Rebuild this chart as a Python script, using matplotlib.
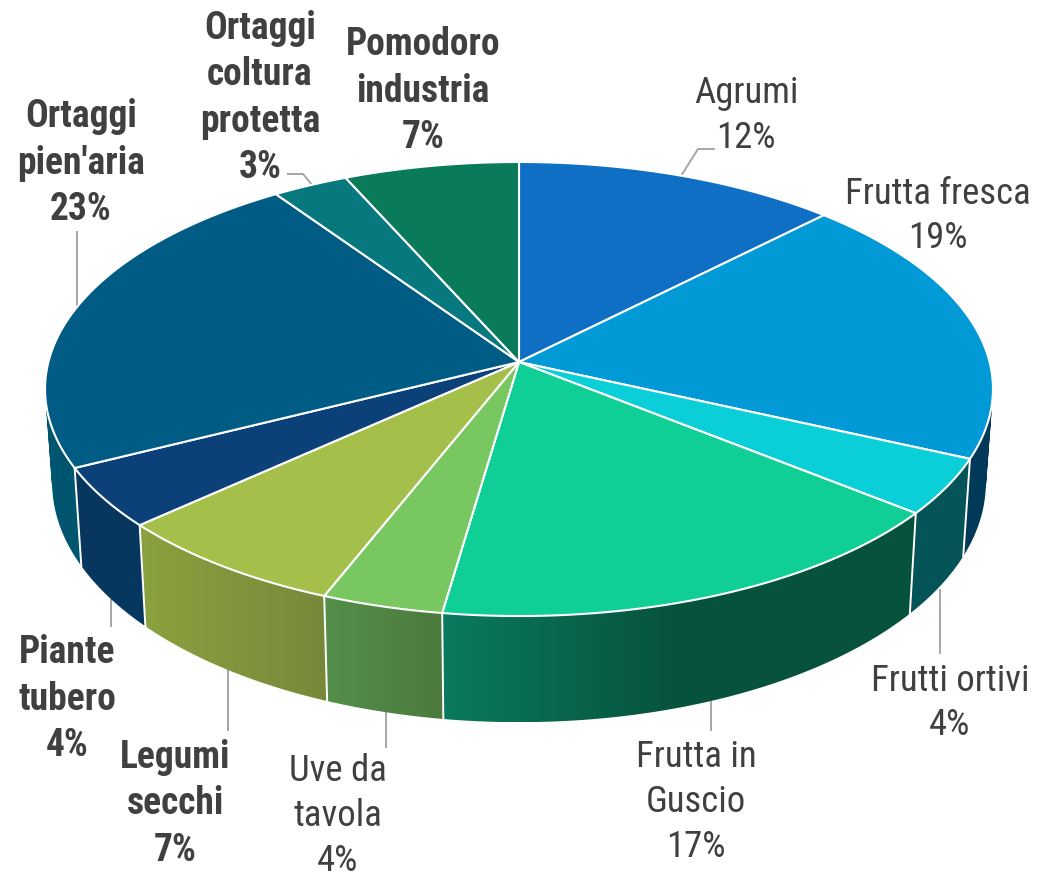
import numpy as np
import matplotlib
matplotlib.use("Agg")
import matplotlib.pyplot as plt
from matplotlib.colors import LinearSegmentedColormap
from matplotlib.patches import Polygon
from matplotlib.path import Path

# quote in percent, clockwise from the top
labels = ["Agrumi", "Frutta fresca", "Frutti ortivi", "Frutta in\nGuscio", "Uve da\ntavola",
          "Legumi\nsecchi", "Piante\ntubero", "Ortaggi\npien'aria", "Ortaggi\ncoltura\nprotetta",
          "Pomodoro\nindustria"]
shares = [12.4, 19.35, 4.0, 16.55, 3.7, 7.3, 4.3, 22.8, 2.9, 6.7]
bold = [False, False, False, False, False, True, True, True, True, True]

top_colors = ["#0e6fc4", "#0299d7", "#0acfd9", "#0fcf97", "#78c761",
              "#a4bf4a", "#0b4078", "#005c84", "#08787f", "#097a5a"]
side_colors = [["#0a5c9c", "#0a5c9c"], ["#003a58", "#003a58"], ["#055458", "#055458"],
               ["#0a7a5e", "#07523c", "#07523c"], ["#548f4b", "#4c7a3c"],
               ["#8aa23f", "#78883a"], ["#07375f", "#07375f"], ["#00556f", "#00556f"],
               ["#065a60", "#065a60"], ["#065a44", "#065a44"]]

label_pos = [(746, 115.5), (938, 216), (950, 703), (696, 802), (338, 816),
             (175, 804), (67, 699), (81, 163), (260, 98), (423, 91)]
leaders = [[(681, 176), (698, 149), (714, 149)], [], [(940, 590), (940, 653)], [(711, 702), (711, 730)],
           [(386, 713), (386, 747)], [(228, 670), (228, 730)], [(111, 600), (111, 626)],
           [(77, 232), (77, 308)], [(288, 174), (303, 174), (313, 186)], []]

# geometry of the pie on screen, in pixels
cx, cy = 519, 362
a, b, k = 470.6, 223.8, 0.119


def project(theta):
    # perspective view of the unit circle, theta clockwise from the back
    X, Y = np.sin(theta), np.cos(theta)
    w = 1 + k * Y
    return cx + a * X / w, cy - b * Y / w


def lower(x, y):
    # same point at the base of the cylinder
    return cx + 0.985 * (x - cx), y + 98 + 0.055 * (y - 468)


def quad_path(p):
    # all quads wound the same way, otherwise overlaps cancel out in the clip
    p = np.array(p)
    area = np.sum(p[:, 0] * np.roll(p[:, 1], -1) - np.roll(p[:, 0], -1) * p[:, 1])
    if area < 0:
        p = p[::-1]
    return Path(np.vstack([p, p[0]]), closed=True)


fig = plt.figure(figsize=(10.38, 8.76), dpi=100)
ax = fig.add_axes([0, 0, 1, 1])

edges = np.cumsum([0] + shares) / 100 * 2 * np.pi

for i in range(len(shares)):
    th = np.linspace(edges[i], edges[i + 1], 90)
    x, y = project(th)
    xb, yb = lower(x, y)
    # the side panel is a gradient image clipped to small quads, so the silhouette stays filled
    quads = [quad_path([(x[j], y[j]), (x[j + 1], y[j + 1]), (xb[j + 1], yb[j + 1]), (xb[j], yb[j])])
             for j in range(len(th) - 1)]
    cmap = LinearSegmentedColormap.from_list("side%d" % i, side_colors[i])
    im = ax.imshow(np.linspace(0, 1, 256)[None, :], cmap=cmap, aspect="auto", zorder=2,
                   extent=(min(x.min(), xb.min()), max(x.max(), xb.max()), yb.max(), y.min()))
    im.set_clip_path(Path.make_compound_path(*quads), transform=ax.transData)
    # white divider between two side panels
    ax.plot([x[0], xb[0]], [y[0], yb[0]], color="white", lw=1.4, zorder=2.5)

for i in range(len(shares)):
    th = np.linspace(edges[i], edges[i + 1], 80)
    x, y = project(th)
    pts = np.column_stack([np.r_[cx, x], np.r_[cy, y]])
    ax.add_patch(Polygon(pts, closed=True, fc=top_colors[i], ec="white", lw=1.5,
                         joinstyle="round", zorder=3))

for line in leaders:
    if line:
        xs, ys = zip(*line)
        ax.plot(xs, ys, color="#a6a6a6", lw=1.4, zorder=1)

for i in range(len(shares)):
    ax.text(label_pos[i][0], label_pos[i][1], "%s\n%.0f%%" % (labels[i], shares[i]),
            ha="center", va="center", ma="center", color="#404040",
            fontsize=27 if bold[i] else 26.5, family="Roboto Condensed",
            fontweight="bold" if bold[i] else "normal", linespacing=1.32, zorder=5)

ax.set_xlim(0, 1038)
ax.set_ylim(876, 0)
ax.axis("off")

fig.savefig("out.png", dpi=100)
